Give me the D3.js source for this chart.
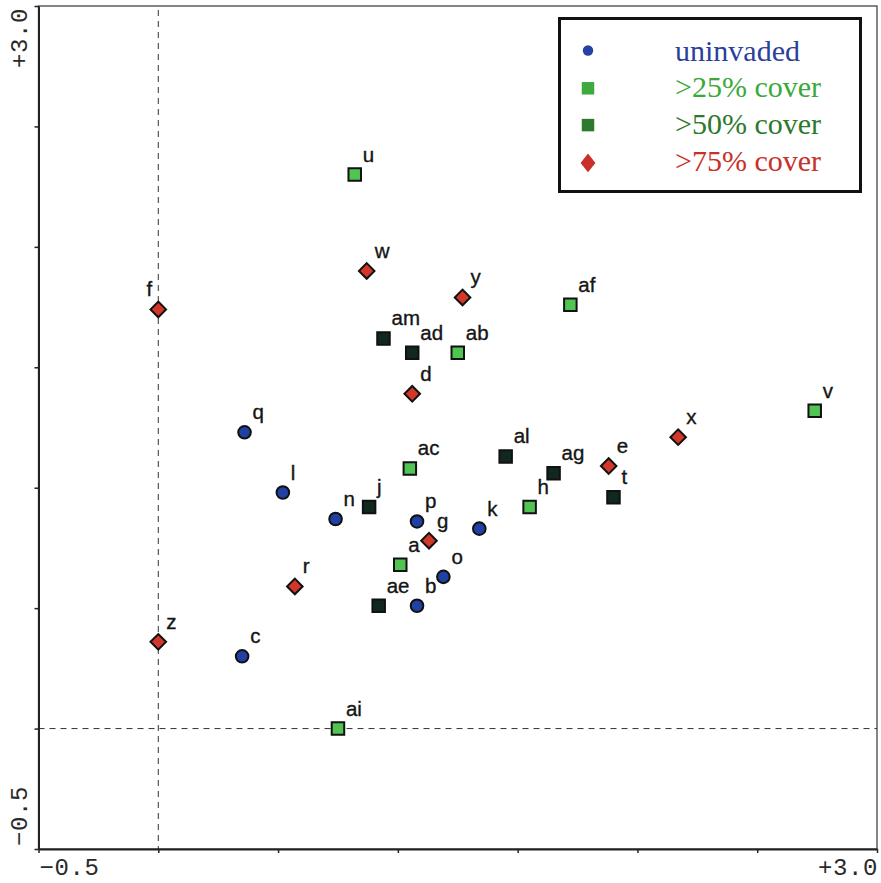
<!DOCTYPE html>
<html>
<head>
<meta charset="utf-8">
<script src="https://cdn.jsdelivr.net/npm/d3@7"></script>
<style>
  body { margin: 0; background: #fff; }
  svg { display: block; }
</style>
</head>
<body>
<svg id="chart" width="881" height="883"></svg>
<script>
// Invasion-class groups shown in the legend
const groupNames = ["uninvaded", ">25% cover", ">50% cover", ">75% cover"];

// Site labels with their ordination scores (axis 1, axis 2) and group index
const siteLabels = ["f", "z", "u", "w", "y", "am", "ad", "ab", "d", "af", "v", "q", "x",
  "ac", "al", "e", "ag", "t", "h", "l", "j", "n", "p", "g", "k", "a", "o", "b", "ae",
  "r", "c", "ai"];
const axis1Scores = [0.00, 0.00, 0.82, 0.87, 1.27, 0.94, 1.06, 1.25, 1.06, 1.72, 2.74, 0.36, 2.17,
  1.05, 1.45, 1.88, 1.65, 1.90, 1.55, 0.52, 0.88, 0.74, 1.08, 1.13, 1.34, 1.01, 1.19, 1.08, 0.92,
  0.57, 0.35, 0.75];
const axis2Scores = [1.74, 0.36, 2.30, 1.90, 1.79, 1.62, 1.56, 1.56, 1.39, 1.76, 1.32, 1.23, 1.21,
  1.08, 1.13, 1.09, 1.06, 0.96, 0.92, 0.98, 0.92, 0.87, 0.86, 0.78, 0.83, 0.68, 0.63, 0.51, 0.51,
  0.59, 0.30, 0.00];
const siteGroup = [3, 3, 1, 3, 3, 2, 2, 1, 3, 1, 1, 0, 3,
  1, 2, 3, 2, 2, 1, 0, 2, 0, 0, 3, 0, 1, 0, 0, 2,
  3, 0, 1];

// Axis extent, tick values and the end labels printed on each axis
const axisDomain = [-0.5, 3.0];
const axisTicks = [-0.5, 0, 0.5, 1, 1.5, 2, 2.5, 3];
const axisEndLabels = ["\u22120.5", "+3.0"];

const svg = d3.select("#chart");
const W = 881, H = 883;
const plot = { left: 38.5, right: 877, top: 6, bottom: 849 };

const x = d3.scaleLinear().domain(axisDomain).range([plot.left, plot.right]);
const y = d3.scaleLinear().domain(axisDomain).range([plot.bottom, plot.top]);

svg.append("rect").attr("width", W).attr("height", H).attr("fill", "#fff");

// Thin frame on top and right
svg.append("rect")
  .attr("x", plot.left).attr("y", plot.top)
  .attr("width", plot.right - plot.left).attr("height", plot.bottom - plot.top)
  .attr("fill", "none").attr("stroke", "#444").attr("stroke-width", 1.3);

// Dashed reference lines through the origin
svg.append("line")
  .attr("x1", x(0)).attr("x2", x(0)).attr("y1", plot.top + 4).attr("y2", plot.bottom)
  .attr("stroke", "#333").attr("stroke-width", 1).attr("stroke-dasharray", "6,5");
svg.append("line")
  .attr("x1", plot.left).attr("x2", plot.right).attr("y1", y(0)).attr("y2", y(0))
  .attr("stroke", "#333").attr("stroke-width", 1).attr("stroke-dasharray", "6,5");

// Axes
const xAxis = d3.axisBottom(x).tickValues(axisTicks).tickSize(4).tickSizeOuter(0).tickFormat("");
const yAxis = d3.axisLeft(y).tickValues(axisTicks).tickSize(4).tickSizeOuter(0).tickFormat("");
const gx = svg.append("g").attr("transform", `translate(0,${plot.bottom})`).call(xAxis);
const gy = svg.append("g").attr("transform", `translate(${plot.left},0)`).call(yAxis);
[gx, gy].forEach(g => {
  g.select(".domain").attr("stroke", "#222").attr("stroke-width", 2);
  g.selectAll(".tick line").attr("stroke", "#222").attr("stroke-width", 1.5);
});

// End labels of the axes
const axisFont = "'Liberation Mono', 'DejaVu Sans Mono', monospace";
function axisLabel(sel) {
  return sel.attr("font-family", axisFont).attr("font-size", 24)
    .attr("letter-spacing", 0.6).attr("fill", "#2a2a2a");
}
svg.append("text").attr("x", x(axisDomain[0]) + 1).attr("y", 875)
  .call(axisLabel).text(axisEndLabels[0]);
svg.append("text").attr("x", x(axisDomain[1]) + 1).attr("y", 875).attr("text-anchor", "end")
  .call(axisLabel).text(axisEndLabels[1]);
svg.append("text")
  .attr("transform", `translate(27,${y(axisDomain[0]) - 3}) rotate(-90)`)
  .call(axisLabel).text(axisEndLabels[0]);
svg.append("text")
  .attr("transform", `translate(27,${y(axisDomain[1]) + 2}) rotate(-90)`)
  .attr("text-anchor", "end")
  .call(axisLabel).text(axisEndLabels[1]);

// Marker styles per group
const markerFill = ["#2140a4", "#52c452", "#10281d", "#d2382a"];
const legendFill = ["#2541a5", "#3eaa3e", "#2d7a2d", "#c9302a"];
const textFill = ["#2a3f9e", "#3aa93a", "#2c792c", "#c8302a"];

function markerPath(group) {
  if (group === 0) return d3.symbol(d3.symbolCircle, Math.PI * 6.3 * 6.3)();
  if (group === 3) return d3.symbol(d3.symbolSquare, 11 * 11)();
  return d3.symbol(d3.symbolSquare, 12.5 * 12.5)();
}

const sites = siteLabels.map((label, i) => ({
  label, a1: axis1Scores[i], a2: axis2Scores[i], group: siteGroup[i]
}));

const pts = svg.append("g").selectAll("g.site").data(sites).join("g")
  .attr("class", "site")
  .attr("transform", d => `translate(${x(d.a1)},${y(d.a2)})`);

pts.append("path")
  .attr("d", d => markerPath(d.group))
  .attr("transform", d => d.group === 3 ? "rotate(45)" : null)
  .attr("fill", d => markerFill[d.group])
  .attr("stroke", "#111")
  .attr("stroke-width", 2);

// Site labels sit above-right of each marker; "f" goes to the left of the dashed line
const leftLabels = new Set(["f"]);
pts.append("text")
  .attr("x", d => leftLabels.has(d.label) ? -6 : 8)
  .attr("y", -13)
  .attr("text-anchor", d => leftLabels.has(d.label) ? "end" : "start")
  .attr("font-family", "'Liberation Sans', Arial, sans-serif")
  .attr("font-size", 20.5)
  .attr("fill", "#151515")
  .attr("stroke", "#151515")
  .attr("stroke-width", 0.35)
  .text(d => d.label);

// Legend
const legend = svg.append("g");
legend.append("rect")
  .attr("x", 559.5).attr("y", 18.5).attr("width", 301).attr("height", 173)
  .attr("fill", "#fff").attr("stroke", "#111").attr("stroke-width", 3);

const legendRows = legend.selectAll("g.row").data(groupNames).join("g")
  .attr("class", "row")
  .attr("transform", (d, i) => `translate(0,${60.5 + i * 36.8})`);

legendRows.append("path")
  .attr("transform", (d, i) => {
    if (i === 3) return "translate(588,-8) scale(1,1.25) rotate(45)";
    return `translate(588,${i === 0 ? -10 : -9})`;
  })
  .attr("d", (d, i) => {
    if (i === 0) return d3.symbol(d3.symbolCircle, Math.PI * 5.2 * 5.2)();
    if (i === 3) return d3.symbol(d3.symbolSquare, 10.5 * 10.5)();
    return d3.symbol(d3.symbolSquare, 12.5 * 12.5)();
  })
  .attr("fill", (d, i) => legendFill[i]);

legendRows.append("text")
  .attr("x", 675).attr("y", 0)
  .attr("font-family", "'Liberation Serif', 'Times New Roman', serif")
  .attr("font-size", 30)
  .attr("fill", (d, i) => textFill[i])
  .text(d => d);
</script>
</body>
</html>
